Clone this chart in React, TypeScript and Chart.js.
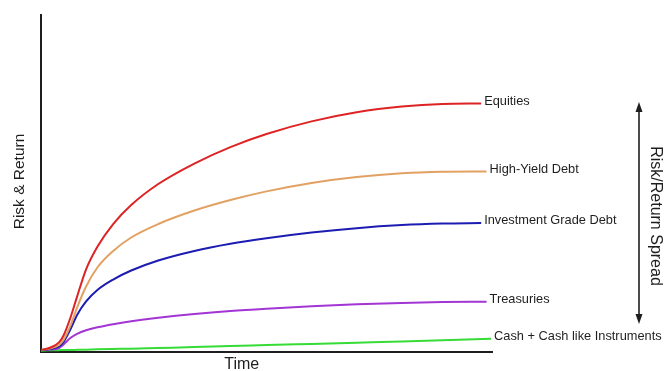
import React, { useEffect, useRef } from "react";
import { Chart, registerables } from "chart.js";

Chart.register(...registerables);

// Time axis samples (arbitrary units, 0–100) shared by every curve
const time = [0, 2, 4, 5, 6.5, 8, 10, 12.5, 16, 20, 26, 34, 42, 50, 60, 70, 80, 89];

// Series names, colours and where each curve stops on the time axis
const seriesNames = [
  "Equities",
  "High-Yield Debt",
  "Investment Grade Debt",
  "Treasuries",
  "Cash + Cash like Instruments",
];
const seriesColors = ["#dd2323", "#e2a163", "#1c1cb2", "#a335d4", "#36dc36"];
const endTime = [97.6, 98.8, 97.6, 98.8, 99.8];

// Risk & return level (0–100) at each time sample, final value is the curve end
const equities = [0.59, 1.25, 2.85, 4.9, 10.09, 16.44, 24.54, 31.25, 37.98, 43.62, 49.85, 55.93, 60.81, 64.69, 68.44, 71.14, 72.84, 73.61, 73.74];
const highYieldDebt = [0.59, 1.04, 2.08, 3.56, 7.72, 13.2, 19.44, 25.07, 29.97, 33.98, 37.98, 41.98, 45.1, 47.66, 50.16, 51.91, 53.01, 53.46, 53.56];
const investmentGradeDebt = [0.59, 0.89, 1.63, 2.97, 6.68, 10.98, 14.99, 18.4, 21.51, 24.18, 27.15, 29.99, 32.11, 33.75, 35.45, 36.75, 37.65, 38.1, 38.27];
const treasuries = [0.59, 0.71, 1.19, 2.23, 4.15, 5.4, 6.47, 7.33, 8.25, 9.11, 10.15, 11.28, 12.17, 12.85, 13.56, 14.15, 14.57, 14.81, 14.93];
const cash = [0.4, 0.5, 0.55, 0.6, 0.6, 0.65, 0.7, 0.8, 0.9, 1.0, 1.2, 1.45, 1.8, 2.05, 2.4, 2.75, 3.1, 3.45, 3.9];

const seriesValues = [equities, highYieldDebt, investmentGradeDebt, treasuries, cash];

const FONT = "Arial, 'Liberation Sans', sans-serif";
const INK = "#1e1e1e";

function toPoints(values: number[], end: number) {
  const pts = time.map((t, i) => ({ x: t, y: values[i] }));
  pts.push({ x: end, y: values[values.length - 1] });
  return pts;
}

// Draws the end-of-curve labels, axis titles and the spread arrow
const annotations = {
  id: "annotations",
  afterDatasetsDraw(chart: any) {
    const { ctx, chartArea } = chart;
    ctx.save();
    ctx.fillStyle = INK;

    // Curve labels next to each line's last point
    ctx.font = `12.8px ${FONT}`;
    ctx.textAlign = "left";
    ctx.textBaseline = "middle";
    chart.data.datasets.forEach((ds: any, i: number) => {
      const meta = chart.getDatasetMeta(i);
      const last = meta.data[meta.data.length - 1];
      ctx.fillText(ds.label, last.x + 3, last.y - 2.5);
    });

    // Y axis title
    ctx.font = `15.5px ${FONT}`;
    ctx.save();
    ctx.translate(chartArea.left - 21, (chartArea.top + chartArea.bottom) / 2 - 2);
    ctx.rotate(-Math.PI / 2);
    ctx.textAlign = "center";
    ctx.fillText("Risk & Return", 0, 0);
    ctx.restore();

    // X axis title
    ctx.font = `16px ${FONT}`;
    ctx.textAlign = "center";
    ctx.fillText("Time", chart.scales.x.getPixelForValue(44.5), chartArea.bottom + 13);

    // Double-headed spread arrow on the right
    const ax = chartArea.right + 147;
    const top = chartArea.top + 87;
    const bottom = chartArea.bottom - 28;
    ctx.strokeStyle = INK;
    ctx.lineWidth = 1.6;
    ctx.beginPath();
    ctx.moveTo(ax, top + 6);
    ctx.lineTo(ax, bottom - 6);
    ctx.stroke();
    ctx.beginPath();
    ctx.moveTo(ax, top);
    ctx.lineTo(ax - 3.5, top + 10);
    ctx.lineTo(ax + 3.5, top + 10);
    ctx.closePath();
    ctx.fill();
    ctx.beginPath();
    ctx.moveTo(ax, bottom);
    ctx.lineTo(ax - 3.5, bottom - 10);
    ctx.lineTo(ax + 3.5, bottom - 10);
    ctx.closePath();
    ctx.fill();

    ctx.font = `16px ${FONT}`;
    ctx.save();
    ctx.translate(ax + 16, (top + bottom) / 2 + 3);
    ctx.rotate(Math.PI / 2);
    ctx.textAlign = "center";
    ctx.fillText("Risk/Return Spread", 0, 0);
    ctx.restore();

    ctx.restore();
  },
};

export default function App() {
  const canvasRef = useRef<HTMLCanvasElement | null>(null);

  useEffect(() => {
    document.body.style.margin = "0";
    const canvas = canvasRef.current;
    if (!canvas) return;

    const chart = new Chart(canvas, {
      type: "line",
      data: {
        datasets: seriesNames.map((name, i) => ({
          label: name,
          data: toPoints(seriesValues[i], endTime[i]),
          borderColor: seriesColors[i],
          backgroundColor: seriesColors[i],
          borderWidth: 2,
          pointRadius: 0,
          cubicInterpolationMode: "monotone" as const,
          fill: false,
        })),
      },
      options: {
        responsive: false,
        animation: false,
        devicePixelRatio: 1,
        layout: { padding: { left: 41, top: 15, right: 177, bottom: 19 } },
        plugins: {
          legend: { display: false },
          tooltip: { enabled: false },
        },
        scales: {
          x: {
            type: "linear",
            min: 0,
            max: 100,
            grid: { display: false, drawTicks: false },
            ticks: { display: false },
            border: { display: true, color: INK, width: 2 },
          },
          y: {
            min: 0,
            max: 100,
            grid: { display: false, drawTicks: false },
            ticks: { display: false },
            border: { display: true, color: INK, width: 2 },
          },
        },
      },
      plugins: [annotations],
    });

    return () => chart.destroy();
  }, []);

  return (
    <div style={{ width: 669, height: 371, background: "#fff" }}>
      <canvas ref={canvasRef} width={669} height={371} />
    </div>
  );
}
